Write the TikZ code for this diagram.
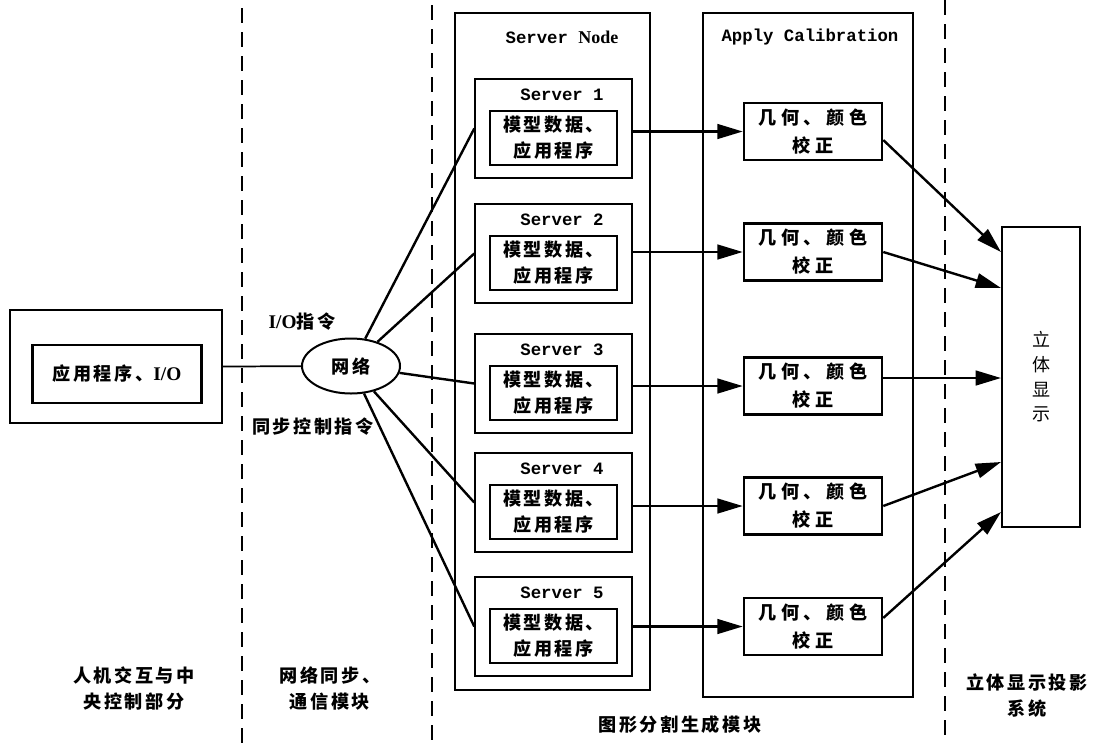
\documentclass[tikz,border=0pt]{standalone}
\usepackage{fontspec}
\setmainfont{Liberation Serif}
\newfontfamily\cjk{Noto Sans CJK SC}[LetterSpace=14]
\newfontfamily\cjkw{Noto Sans CJK SC}[LetterSpace=26]
\newfontfamily\mono{Liberation Mono}
\usetikzlibrary{arrows.meta,shapes.geometric}
\begin{document}
\begin{tikzpicture}[x=0.75pt,y=-0.75pt,
  zh/.style={font={\cjk\bfseries\fontsize{13.6}{19.5}\selectfont},align=center,inner sep=0pt},
  zhw/.style={font={\cjkw\bfseries\fontsize{13.6}{21}\selectfont},align=center,inner sep=0pt},
  ttl/.style={font={\mono\bfseries\fontsize{13}{15}\selectfont},inner sep=0pt},
  lat/.style={font={\rmfamily\bfseries\fontsize{14}{15}\selectfont}},
  thinbox/.style={draw,line width=1.1pt,inner sep=0pt},
  thickbox/.style={draw,line width=2.2pt,inner sep=0pt},
  srvbox/.style={thinbox,minimum width=117.75pt,minimum height=74.25pt},
  srvin/.style={thickbox,zh,minimum width=95.25pt,minimum height=40.5pt},
  calbox/.style={thickbox,line width=1.9pt,zhw,minimum width=103.5pt,minimum height=42.75pt},
  conn/.style={line width=1.8pt},
  arr/.style={conn,-{Triangle[length=19pt,width=11pt]}},
  divider/.style={line width=1.5pt,dash pattern=on 11pt off 7pt}
]
\useasboundingbox (0,0) rectangle (1099,744);

% dividers
\draw[divider] (242,8) -- (242,744);
\draw[divider] (432,5) -- (432,744);
\draw[divider] (945,0) -- (945,744);

% left part
\node[thinbox,line width=1.4pt,minimum width=159pt,minimum height=84.75pt] (lout) at (116,366.5) {};
\node[thickbox,minimum width=126.75pt,minimum height=43.5pt,zh] (lin) at (117,374) {应用程序、{\rmfamily\bfseries\fontsize{14.5}{15}\selectfont I/O}};

% network
\node[draw,ellipse,line width=1.5pt,minimum width=73.5pt,minimum height=41.25pt,inner sep=0pt,zh] (net) at (351,366) {网络};
\node[zh] (iolab) at (302,322) {{\rmfamily\bfseries\fontsize{14.5}{15}\selectfont I/O}指令};
\node[zh] (synclab) at (313,427) {同步控制指令};
\draw[line width=1.3pt] (lout.east) -- (net);

% server node column
\node[thinbox,minimum width=146.25pt,minimum height=507.75pt] (sn) at (552.5,351.5) {};
\node[ttl] (sntitle) at (562,37) {Server {\rmfamily\fontsize{13.5}{15}\selectfont Node}};

% calibration column
\node[thinbox,minimum width=157.5pt,minimum height=513pt] (ac) at (808,355) {};
\node[ttl] (actitle) at (810,37) {Apply Calibration};

% servers
\foreach \i/\t in {1/79,2/204,3/334,4/453,5/577}{
  \node[srvbox] (srv\i) at (553.5,\t+49.5) {};
  \node[ttl] (srvt\i) at (562,\t+16) {Server \i};
  \node[srvin] (srvin\i) at (553.5,\t+59) {模型数据、\\应用程序};
}

% calibration boxes
\foreach \i/\c in {1/131.5,2/252,3/386,4/506,5/626.5}{
  \node[calbox] (cal\i) at (813,\c) {几何、颜色\\校正};
}

% display
\node[thinbox,minimum width=58.5pt,minimum height=225pt,font={\cjk\fontsize{13.5}{18.5}\selectfont},align=center] (disp) at (1041,377) {立\\体\\显\\示};
\coordinate (d1) at (1001,252);
\coordinate (d2) at (1001,288);
\coordinate (d3) at (1001,378);
\coordinate (d4) at (1001,462);
\coordinate (d5) at (1001,512);

% connectors
\foreach \i in {1,...,5}{
  \draw[conn] (net) -- (srv\i.west);
  \draw[arr] (srv\i.east |- cal\i.west) -- (cal\i.west);
}
\draw[arr] ([yshift=-6.4pt]cal1.east) -- (d1);
\draw[arr] (cal2.east) -- (d2);
\draw[arr] ([yshift=6pt]cal3.east) -- (d3);
\draw[arr] (cal4.east) -- (d4);
\draw[arr] ([yshift=6.4pt]cal5.east) -- (d5);

% bottom labels
\node[zh] (lab1) at (134,688) {人机交互与中\\央控制部分};
\node[zh] (lab2) at (330,688) {网络同步、\\通信模块};
\node[zh] (lab3) at (680,725) {图形分割生成模块};
\node[zh] (lab4) at (1027,696) {立体显示投影\\系统};
\end{tikzpicture}
\end{document}
